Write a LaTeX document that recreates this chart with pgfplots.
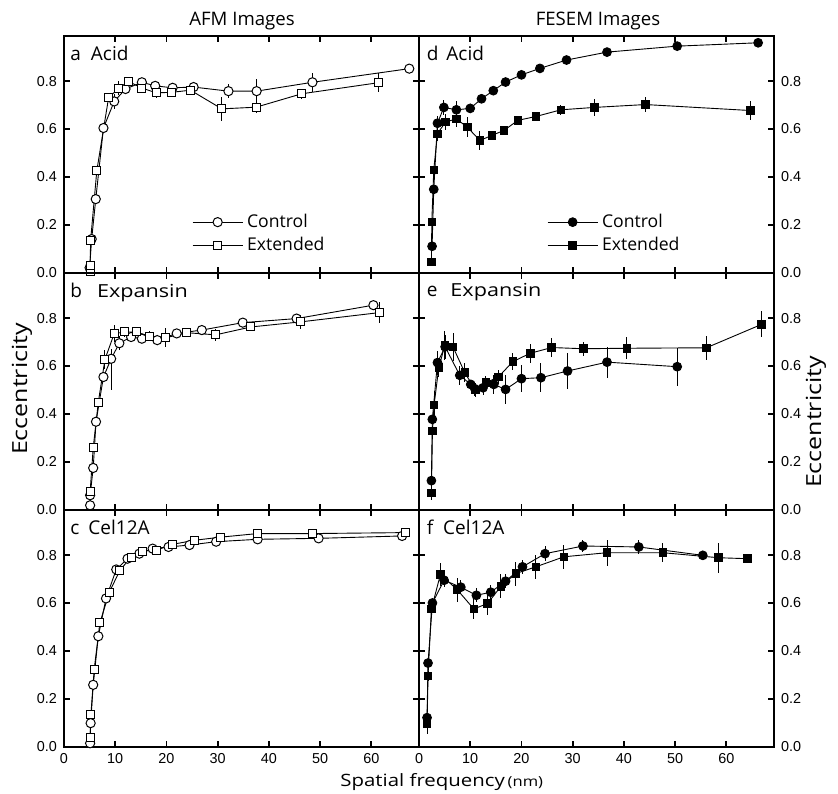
\documentclass[border=0pt]{standalone}
\usepackage{fontspec}
\setmainfont{Open Sans}
\newfontfamily\tickfont{Liberation Sans}
\newfontfamily\labfont[FakeStretch=1.2]{Open Sans}
\usepackage{pgfplots}
\pgfplotsset{compat=1.18}

\tikzset{lab/.style={anchor=north west, inner sep=0pt, xshift=3pt, yshift=-5pt, font=\fontsize{9.5}{11}\selectfont}}
\pgfplotsset{
  panel/.style={
    scale only axis, width=177.5pt, height=118.5pt, anchor=south west,
    xmin=0, xmax=69.3, ymin=0, ymax=0.99,
    xtick={0,10,...,60}, ytick={0,0.2,0.4,0.6,0.8},
    tick align=inside, major tick length=3pt,
    axis line style={line width=0.9pt},
    every tick/.style={black, line width=0.9pt},
    ticklabel style={font=\tickfont\fontsize{7.2}{8}\selectfont},
    /pgf/number format/assume math mode=true,
    yticklabel style={/pgf/number format/.cd, fixed, fixed zerofill, precision=1},
    clip=false,
    error bars/y dir=both, error bars/y explicit, error bars/error mark=none,
    error bars/error bar style={line width=0.5pt, black},
    legend image code/.code={\draw[##1, mark repeat=2, mark phase=2]
      plot coordinates {(0pt,0pt) (12.5pt,0pt) (25pt,0pt)};},
  },
  ctrlO/.style={black, line width=0.45pt, mark=*, mark size=2.3pt, mark options={fill=white, line width=0.5pt}},
  extO/.style={black, line width=0.45pt, mark=square*, mark size=2.0pt, mark options={fill=white, line width=0.5pt}},
  ctrlF/.style={black, line width=0.45pt, mark=*, mark size=2.2pt, mark options={fill=black}},
  extF/.style={black, line width=0.45pt, mark=square*, mark size=1.9pt, mark options={fill=black}},
  leg/.style={legend style={at={(0.36,0.266)}, anchor=north west, draw=none, fill=none,
    inner sep=0pt, row sep=-0.6pt, font=\fontsize{8.8}{10}\selectfont, legend cell align=left}},
}

\begin{document}
\begin{tikzpicture}
\path[use as bounding box] (0pt,0pt) rectangle (419pt,396.5pt);

% a  AFM Acid
\begin{axis}[panel, leg, at={(32pt,260.2pt)}, xticklabels={}]
\addplot[ctrlO] coordinates {
(5.0,0.02) +- (0,0.01) (5.4,0.14) +- (0,0.01) (6.2,0.307) +- (0,0.01) (7.7,0.604) +- (0,0.01)
(9.8,0.715) +- (0,0.03) (12.0,0.767) +- (0,0.02) (15.2,0.795) +- (0,0.015) (17.8,0.78) +- (0,0.015)
(21.2,0.772) +- (0,0.01) (25.3,0.775) +- (0,0.01) (32.1,0.758) +- (0,0.03) (37.6,0.758) +- (0,0.05)
(48.5,0.795) +- (0,0.04) (67.4,0.852) +- (0,0.01)};
\addplot[extO] coordinates {
(5.1,0.005) +- (0,0.01) (5.1,0.03) +- (0,0.01) (5.2,0.136) +- (0,0.01) (6.4,0.425) +- (0,0.01)
(8.7,0.73) +- (0,0.01) (10.7,0.771) +- (0,0.03) (12.6,0.798) +- (0,0.02) (15.2,0.771) +- (0,0.02)
(18.0,0.751) +- (0,0.02) (21.0,0.753) +- (0,0.01) (24.7,0.762) +- (0,0.01) (30.8,0.684) +- (0,0.05)
(37.5,0.691) +- (0,0.025) (46.4,0.747) +- (0,0.02) (61.3,0.793) +- (0,0.04)};
\legend{Control,Extended}
\node[lab] at (rel axis cs:0,1) {a\hspace{5pt}Acid};
\end{axis}

% d  FESEM Acid
\begin{axis}[panel, leg, at={(209.5pt,260.2pt)}, xticklabels={}, yticklabel pos=right]
\addplot[ctrlF] coordinates {
(2.55,0.11) +- (0,0.01) (2.88,0.348) +- (0,0.01) (3.6,0.624) +- (0,0.03) (4.85,0.69) +- (0,0.03)
(7.3,0.68) +- (0,0.035) (10.0,0.686) +- (0,0.01) (12.2,0.726) +- (0,0.01) (14.5,0.76) +- (0,0.01)
(16.9,0.796) +- (0,0.01) (20.0,0.826) +- (0,0.01) (23.6,0.853) +- (0,0.01) (28.8,0.888) +- (0,0.01)
(36.7,0.921) +- (0,0.01) (50.4,0.946) +- (0,0.01) (66.2,0.96) +- (0,0.01)};
\addplot[extF] coordinates {
(2.42,0.044) +- (0,0.01) (2.5,0.212) +- (0,0.01) (2.88,0.429) +- (0,0.01) (3.6,0.58) +- (0,0.03)
(5.16,0.629) +- (0,0.035) (7.3,0.642) +- (0,0.035) (9.4,0.608) +- (0,0.04) (11.9,0.552) +- (0,0.04)
(14.2,0.573) +- (0,0.02) (16.6,0.594) +- (0,0.02) (19.3,0.636) +- (0,0.02) (22.8,0.652) +- (0,0.01)
(27.7,0.68) +- (0,0.02) (34.2,0.69) +- (0,0.035) (44.2,0.702) +- (0,0.03) (64.7,0.677) +- (0,0.04)};
\legend{Control,Extended}
\node[lab, xshift=0.7pt] at (rel axis cs:0,1) {d\hspace{4pt}Acid};
\end{axis}

% b  AFM Expansin
\begin{axis}[panel, at={(32pt,141.7pt)}, xticklabels={}]
\addplot[ctrlO] coordinates {
(5.1,0.018) +- (0,0.01) (5.1,0.06) +- (0,0.01) (5.7,0.174) +- (0,0.01) (6.25,0.367) +- (0,0.01)
(7.7,0.554) +- (0,0.01) (9.2,0.63) += (0,0.04) -= (0,0.13) (10.8,0.695) +- (0,0.03) (13.1,0.721) +- (0,0.01)
(15.2,0.714) +- (0,0.01) (18.2,0.708) +- (0,0.01) (22.0,0.736) +- (0,0.02) (26.9,0.75) +- (0,0.02)
(34.9,0.781) +- (0,0.01) (45.4,0.798) +- (0,0.02) (60.4,0.854) +- (0,0.01)};
\addplot[extO] coordinates {
(5.1,0.074) +- (0,0.01) (5.7,0.258) +- (0,0.01) (6.7,0.449) +- (0,0.01) (8.0,0.628) +- (0,0.04)
(9.8,0.735) +- (0,0.035) (11.8,0.742) +- (0,0.02) (14.1,0.742) +- (0,0.015) (16.6,0.725) +- (0,0.02)
(19.9,0.718) +- (0,0.04) (24.0,0.739) +- (0,0.01) (29.6,0.73) +- (0,0.025) (36.5,0.763) +- (0,0.01)
(46.1,0.784) +- (0,0.03) (61.6,0.823) +- (0,0.045)};
\node[lab] at (rel axis cs:0,1) {b\hspace{7.5pt}{\labfont\fontsize{9}{11}\selectfont Expansin}};
\end{axis}

% e  FESEM Expansin
\begin{axis}[panel, at={(209.5pt,141.7pt)}, xticklabels={}, yticklabel pos=right]
\addplot[ctrlF] coordinates {
(2.42,0.121) +- (0,0.01) (2.6,0.377) +- (0,0.01) (3.6,0.614) +- (0,0.05) (5.1,0.68) +- (0,0.05)
(7.96,0.561) +- (0,0.04) (10.1,0.523) +- (0,0.02) (10.9,0.505) +- (0,0.03) (12.5,0.509) +- (0,0.03)
(14.6,0.523) +- (0,0.04) (16.9,0.502) +- (0,0.06) (20.0,0.547) +- (0,0.055) (23.8,0.551) +- (0,0.06)
(29.0,0.579) +- (0,0.075) (36.7,0.616) +- (0,0.065) (50.4,0.597) +- (0,0.08)};
\addplot[extF] coordinates {
(2.42,0.07) +- (0,0.03) (2.62,0.328) +- (0,0.02) (2.94,0.437) +- (0,0.06) (3.86,0.593) +- (0,0.04)
(5.03,0.686) +- (0,0.06) (6.65,0.679) +- (0,0.06) (8.94,0.572) +- (0,0.04) (11.0,0.50) +- (0,0.03)
(13.05,0.53) +- (0,0.03) (15.5,0.554) +- (0,0.03) (18.3,0.618) +- (0,0.035) (21.7,0.653) +- (0,0.04)
(25.9,0.677) +- (0,0.04) (32.1,0.672) +- (0,0.03) (40.6,0.674) +- (0,0.045) (56.1,0.676) +- (0,0.05)
(66.9,0.774) +- (0,0.055)};
\node[lab, xshift=0.7pt] at (rel axis cs:0,1) {e\hspace{6.5pt}{\labfont\fontsize{9}{11}\selectfont Expansin}};
\end{axis}

% c  AFM Cel12A
\begin{axis}[panel, at={(32pt,23.2pt)}]
\addplot[ctrlO] coordinates {
(5.1,0.014) +- (0,0.01) (5.2,0.098) +- (0,0.01) (5.7,0.258) +- (0,0.01) (6.7,0.461) +- (0,0.01)
(8.2,0.619) +- (0,0.01) (10.2,0.74) +- (0,0.015) (12.4,0.785) +- (0,0.01) (14.7,0.806) +- (0,0.01)
(17.3,0.827) +- (0,0.01) (20.4,0.834) +- (0,0.01) (24.5,0.842) +- (0,0.01) (29.7,0.856) +- (0,0.01)
(37.8,0.866) +- (0,0.015) (49.7,0.87) +- (0,0.01) (66.0,0.88) +- (0,0.01)};
\addplot[extO] coordinates {
(5.1,0.038) +- (0,0.01) (5.25,0.133) +- (0,0.01) (5.9,0.324) +- (0,0.01) (7.0,0.517) +- (0,0.015)
(8.85,0.645) +- (0,0.01) (10.9,0.736) +- (0,0.01) (13.1,0.792) +- (0,0.01) (15.4,0.817) +- (0,0.01)
(18.1,0.821) +- (0,0.01) (21.2,0.845) +- (0,0.01) (25.5,0.862) +- (0,0.01) (30.6,0.875) +- (0,0.01)
(37.8,0.89) +- (0,0.015) (48.5,0.89) +- (0,0.01) (66.6,0.894) +- (0,0.01)};
\node[lab] at (rel axis cs:0,1) {c\hspace{4.5pt}Cel12A};
\end{axis}

% f  FESEM Cel12A
\begin{axis}[panel, at={(209.5pt,23.2pt)}, yticklabel pos=right]
\addplot[ctrlF] coordinates {
(1.57,0.121) +- (0,0.02) (1.76,0.349) +- (0,0.02) (2.62,0.60) +- (0,0.02) (4.9,0.695) +- (0,0.03)
(8.16,0.666) +- (0,0.03) (11.2,0.632) +- (0,0.03) (14.0,0.645) +- (0,0.03) (16.9,0.691) +- (0,0.03)
(20.2,0.751) +- (0,0.03) (24.6,0.806) +- (0,0.03) (32.0,0.838) +- (0,0.025) (42.9,0.834) +- (0,0.03)
(55.4,0.799) +- (0,0.02)};
\addplot[extF] coordinates {
(1.57,0.094) +- (0,0.04) (1.76,0.296) +- (0,0.02) (2.42,0.575) +- (0,0.02) (4.18,0.719) +- (0,0.05)
(7.44,0.656) +- (0,0.05) (10.7,0.575) +- (0,0.04) (13.4,0.598) +- (0,0.05) (16.0,0.67) +- (0,0.05)
(18.9,0.723) +- (0,0.05) (22.8,0.751) +- (0,0.05) (28.3,0.793) +- (0,0.05) (36.7,0.81) +- (0,0.055)
(47.6,0.81) +- (0,0.04) (58.5,0.789) +- (0,0.063) (64.1,0.785) +- (0,0.01)};
\node[lab, xshift=0.7pt] at (rel axis cs:0,1) {f\hspace{5pt}Cel12A};
\end{axis}

% titles and axis labels
\node[anchor=base, font=\fontsize{9.3}{10}\selectfont] at (121pt,383.5pt) {AFM Images};
\node[anchor=base, font=\fontsize{9.3}{10}\selectfont] at (299pt,383.5pt) {FESEM Images};
\node[rotate=90, font=\labfont\fontsize{10.4}{12}\selectfont] at (11pt,202pt) {Eccentricity};
\node[rotate=90, font=\labfont\fontsize{10.4}{12}\selectfont] at (408pt,185.5pt) {Eccentricity};
\node[anchor=base west, inner sep=0pt, font=\labfont\fontsize{8.5}{10}\selectfont] at (170pt,3.3pt)
  {Spatial frequency\,{\fontsize{6.9}{8}\selectfont(nm)}};
\end{tikzpicture}
\end{document}
